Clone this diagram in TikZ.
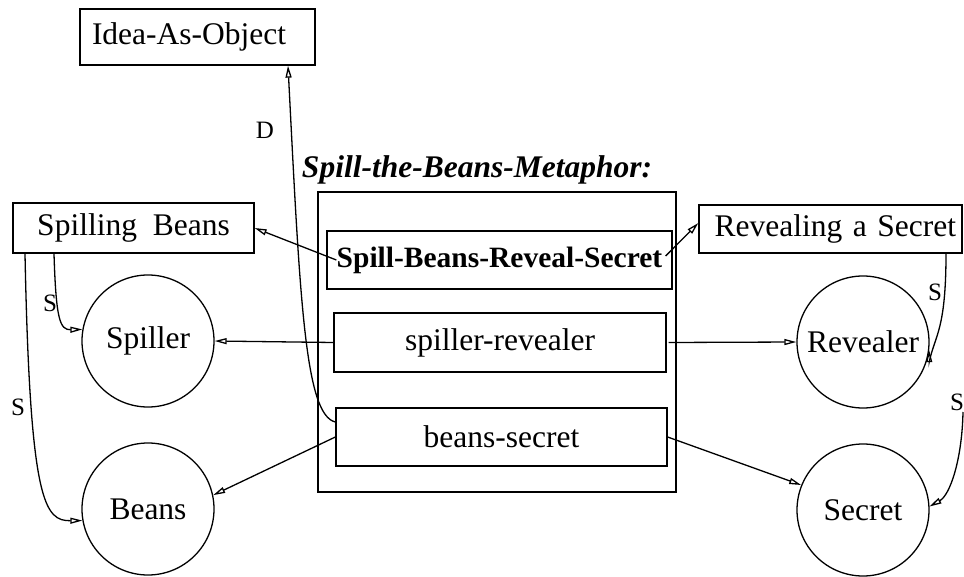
\documentclass[tikz,border=0pt]{standalone}
\usepackage{fontspec}
\setmainfont{Liberation Serif}
\usetikzlibrary{arrows.meta}
\begin{document}
\begin{tikzpicture}[x=1pt,y=-1pt,
  every node/.style={font=\fontsize{31.5}{36}\selectfont},
  box/.style={draw,line width=1.3pt,rectangle,inner sep=0pt},
  circ/.style={draw,line width=1.3pt,circle,minimum size=132pt,inner sep=0pt},
  lbl/.style={font=\fontsize{25}{30}\selectfont,inner sep=0pt},
  arr/.style={line width=1.3pt,-{Triangle[open,length=12pt,width=6pt]}}]
\useasboundingbox (0,0) rectangle (964,577);
% boxes
\node[box,minimum width=235pt,minimum height=56pt,text width=211pt,inner xsep=12pt,align=left] (ido) at (197.5,37) {Idea-As-Object};
\node[box,minimum width=241pt,minimum height=50pt] (sb) at (133.5,228) {Spilling\ \ Beans};
\node[box,minimum height=48pt,text width=251pt,inner xsep=6pt,align=right] (rs) at (830.5,229) {Revealing a Secret};
\node[box,minimum width=358pt,minimum height=300pt] (outer) at (497,342) {};
\node[font=\fontsize{31.5}{36}\selectfont\bfseries\itshape,inner sep=0pt] (title) at (477,170) {Spill-the-Beans-Metaphor:};
\node[box,minimum width=345pt,minimum height=58pt,font=\fontsize{29.5}{36}\selectfont\bfseries] (sbrs) at (499.5,260) {Spill-Beans-Reveal-Secret};
\node[box,minimum width=332pt,minimum height=59pt] (sr) at (500,342.5) {spiller-revealer};
\node[box,minimum width=331pt,minimum height=58pt] (bs) at (501.5,437) {beans-secret};
% circles
\node[circ] (spiller) at (148,341) {Spiller};
\node[circ] (beans) at (148,509) {Beans};
\node[circ] (revealer) at (863,342) {Revealer};
\node[circ] (secret) at (863,510) {Secret};
\coordinate (s4start) at (963,412);
% connectors
\draw[arr] ([xshift=10pt]sbrs.west) -- (sb.east);
\draw[arr] ([xshift=-7pt,yshift=4pt]sbrs.east) -- ([yshift=6pt]rs.west);
\draw[arr] (sr.west) -- (spiller.east);
\draw[arr] ([xshift=2pt]sr.east) -- (revealer.west);
\draw[arr] (bs.west) -- (beans.12);
\draw[arr] (bs.east) -- (secret.158);
\draw[arr] ([yshift=15pt]bs.west) .. controls (305,415) and (300,300) .. ([xshift=90.5pt]ido.south);
\draw[arr] ([xshift=-79.5pt]sb.south) .. controls (56,320) and (60,330) .. (spiller.170);
\draw[arr] ([xshift=-108.5pt]sb.south) .. controls (30,505) and (45,521) .. (beans.190);
\draw[arr] ([xshift=115.5pt]rs.south) .. controls (946,330) and (935,335) .. ([yshift=-12pt]revealer.-7) -- (revealer.-7);
\draw[arr] (s4start) .. controls (962,460) and (950,495) .. (secret.3);
% labels
\node[lbl] (ld) at (265,130) {D};
\node[lbl] (ls1) at (50,303) {S};
\node[lbl] (ls2) at (18,407) {S};
\node[lbl] (ls3) at (935,292) {S};
\node[lbl] (ls4) at (957,402) {S};
\end{tikzpicture}
\end{document}
